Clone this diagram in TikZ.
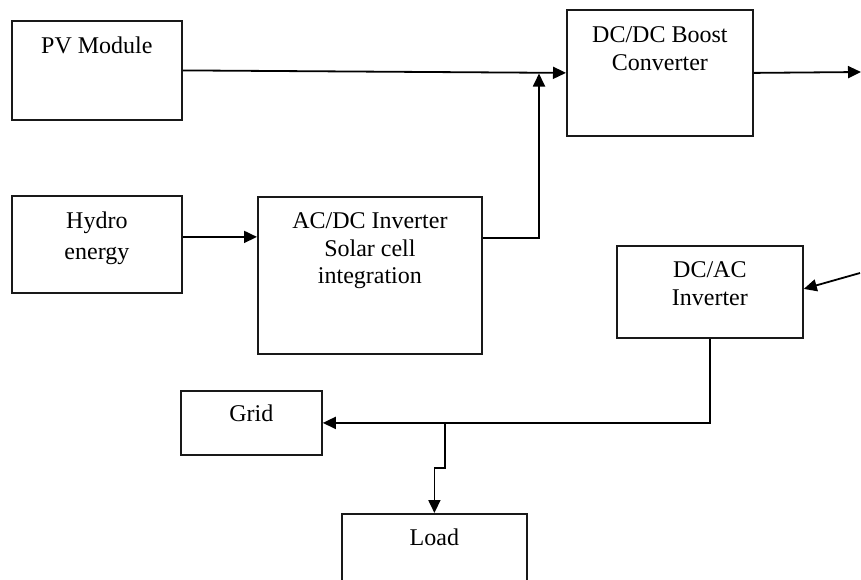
\documentclass[tikz,border=0pt]{standalone}
\usepackage{fontspec}
\setmainfont{Liberation Serif}
\usetikzlibrary{arrows.meta}
\newcommand{\bxt}[4]{\parbox[c][#2][t]{#1}{\centering\rule{0pt}{#3}#4}}
\begin{document}
\begin{tikzpicture}[x=1pt,y=-1pt,
  box/.style={draw=black!90, line width=1.8pt, inner sep=0pt, anchor=north west,
    font=\fontsize{24}{27.5}\selectfont},
  arr/.style={draw=black, line width=1.8pt, -{Triangle[length=13pt,width=12pt]}}]
\clip (0,0) rectangle (861,579);
\fill[white] (0,0) rectangle (861,579);
\node[box] (pv)   at (11,20)   {\bxt{170pt}{99pt}{33pt}{PV Module}};
\node[box] (dcdc) at (566,9)   {\bxt{186pt}{126pt}{33pt}{DC/DC Boost\\Converter}};
\node[box] (hydro) at (11,195) {\fontsize{24}{31}\selectfont\bxt{170pt}{97pt}{33pt}{Hydro\\energy}};
\node[box] (acdc) at (257,196) {\bxt{224pt}{157pt}{32pt}{AC/DC Inverter\\Solar cell\\integration}};
\node[box] (dcac) at (616,245) {\bxt{186pt}{92pt}{32pt}{DC/AC\\Inverter}};
\node[box] (grid) at (180,390) {\bxt{141pt}{64pt}{31pt}{Grid}};
\node[box] (load) at (341,513) {\bxt{185pt}{100pt}{32pt}{Load}};
\coordinate (out1) at (861,72);
\coordinate (in1) at (860,273);
\coordinate (j1) at (539,73.5);
\coordinate (j2) at (445,422);
\coordinate (k1) at (445,468);
\draw[arr] (pv.east) -- (dcdc.west);
\draw[arr] ([yshift=7.5pt]hydro.east) -- ([yshift=7.5pt]hydro.east -| acdc.west);
\draw[arr] ([yshift=37.5pt]acdc.east) -| (j1);
\draw[arr] (dcdc.east) -- (out1);
\draw[arr] (in1) -- ([yshift=3pt]dcac.east);
\draw[arr] (dcac.south) |- (grid.east);
\draw[arr] (j2) -- (k1) -| (load.north);
\end{tikzpicture}
\end{document}
